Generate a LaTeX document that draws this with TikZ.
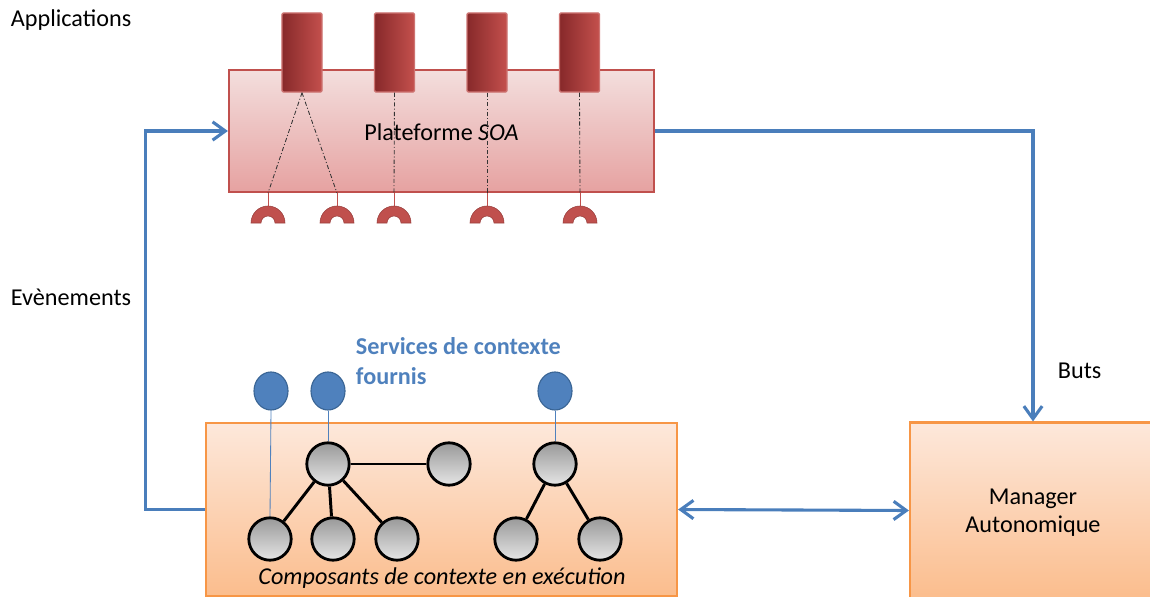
\documentclass[tikz,border=0pt]{standalone}
\usepackage{fontspec}
\setmainfont{Carlito}
\usepackage{xcolor}
\usepackage{tikz}
\usetikzlibrary{arrows.meta,shapes.geometric}
\definecolor{soaline}{HTML}{C0504D}
\definecolor{soatop}{HTML}{F3DEDD}
\definecolor{soabot}{HTML}{E6A2A1}
\definecolor{appdark}{HTML}{87292A}
\definecolor{applight}{HTML}{C4504D}
\definecolor{ctxline}{HTML}{F79646}
\definecolor{ctxtop}{HTML}{FDE8DB}
\definecolor{ctxbot}{HTML}{FBBD8D}
\definecolor{flowblue}{HTML}{4A7EBB}
\definecolor{svcfill}{HTML}{4F81BD}
\definecolor{svcline}{HTML}{3A6595}
\tikzset{
  soabox/.style={draw=soaline, line width=1.5pt, top color=soatop, bottom color=soabot, minimum width=10.625cm, minimum height=3.05cm, inner sep=0pt},
  appbox/.style={draw=soaline!80!white, line width=1pt, left color=appdark, right color=applight, rounded corners=1pt, minimum width=1cm, minimum height=1.975cm, inner sep=0pt},
  ringsock/.style={fill=soaline, draw=soaline!80!black, line width=0.4pt},
  appwire/.style={line width=0.6pt, draw=black!80, dash pattern=on 3pt off 1.5pt on 0.8pt off 1.5pt},
  sockwire/.style={line width=0.6pt, draw=soaline},
  ctxbox/.style={draw=ctxline, line width=1.5pt, top color=ctxtop, bottom color=ctxbot, inner sep=0pt},
  compnode/.style={circle, draw=black, line width=2pt, top color=black!40, bottom color=black!10, minimum size=1.06cm, inner sep=0pt},
  svcnode/.style={ellipse, draw=svcline, line width=0.8pt, fill=svcfill, minimum width=0.85cm, minimum height=0.95cm, inner sep=0pt},
  complink/.style={line width=2.1pt, draw=black},
  svclink/.style={line width=0.6pt, draw=svcfill},
  flow/.style={line width=2.2pt, draw=flowblue, -{Straight Barb[length=9pt,width=13pt,line width=2.2pt]}},
  every node/.style={font=\fontsize{17.2}{20.5}\selectfont},
}

\begin{document}
\begin{tikzpicture}[x=0.025cm, y=-0.025cm]
\clip (0,0) rectangle (1150,597);
% boxes
\node[soabox] (soa) at (441.5,131) {};
\node at (441.5,132) {Plateforme \textit{SOA}};
\node[ctxbox, minimum width=11.775cm, minimum height=4.325cm] (ctx) at (441.5,509.5) {};
\node[ctxbox, minimum width=6.15cm, minimum height=4.4cm] (mgr) at (1033,510.5) {};
\node[align=center] (mgrlbl) at (1033,512.5) {Manager\\[-0.5pt]Autonomique};
% applications
\foreach \i/\x in {1/302,2/394.5,3/487,4/579.5}
  \node[appbox] (app\i) at (\x,52.5) {};
% sockets
\foreach \i/\x in {1/268,2/337,3/394,4/487,5/580}
  \coordinate (r\i) at (\x,223);
\foreach \i in {1,...,5}{
  \draw[sockwire] (r\i |- soa.south) -- ++(0,14);
  \fill[ringsock] (r\i) ++(-17,0) arc[start angle=180, end angle=360, radius=17] -- ++(-10,0) arc[start angle=360, end angle=180, radius=7] -- cycle;
}
\draw[appwire] (app1.south) -- (r1 |- soa.south);
\draw[appwire] (app1.south) -- (r2 |- soa.south);
\draw[appwire] (app2.south) -- (r3 |- soa.south);
\draw[appwire] (app3.south) -- (r4 |- soa.south);
\draw[appwire] (app4.south) -- (r5 |- soa.south);
% context components
\node[compnode] (ca) at (328,464) {};
\node[compnode] (cb) at (449,464) {};
\node[compnode] (cc) at (555,464) {};
\node[compnode] (b1) at (270,539) {};
\node[compnode] (b2) at (333,539) {};
\node[compnode] (b3) at (397,539) {};
\node[compnode] (b4) at (516,539) {};
\node[compnode] (b5) at (600,539) {};
\draw[complink] (ca) -- (cb);
\draw[complink] (ca) -- (b1);
\draw[complink] (ca) -- (b2);
\draw[complink] (ca) -- (b3);
\draw[complink] (cc) -- (b4);
\draw[complink] (cc) -- (b5);
\node[svcnode] (s1) at (271,391) {};
\node[svcnode] (s2) at (328,391) {};
\node[svcnode] (s3) at (555,391) {};
\draw[svclink] (s1.south) -- (b1.north);
\draw[svclink] (s2.south) -- (ca.north);
\draw[svclink] (s3.south) -- (cc.north);
\node (ctxlbl) at (442,578) {\textit{Composants de contexte en exécution}};
\node[anchor=north west, align=left, text=svcfill, font=\fontsize{17.2}{21}\selectfont\bfseries] (svclbl) at (351,333) {Services de contexte\\fournis};
% flows
\draw[flow] (ctx.west) -- ++(-59,0) |- (soa.west);
\draw[flow] (soa.east) -| (mgr.north);
\draw[flow, {Straight Barb[length=9pt,width=13pt,line width=2.2pt]}-{Straight Barb[length=9pt,width=13pt,line width=2.2pt]}] (ctx.east) -- (mgr.west);
% labels
\node[anchor=west] (applbl) at (6,20) {Applications};
\node[anchor=west] (evtlbl) at (6,297) {Evènements};
\node[anchor=west] (butlbl) at (1053,371) {Buts};
\end{tikzpicture}
\end{document}
